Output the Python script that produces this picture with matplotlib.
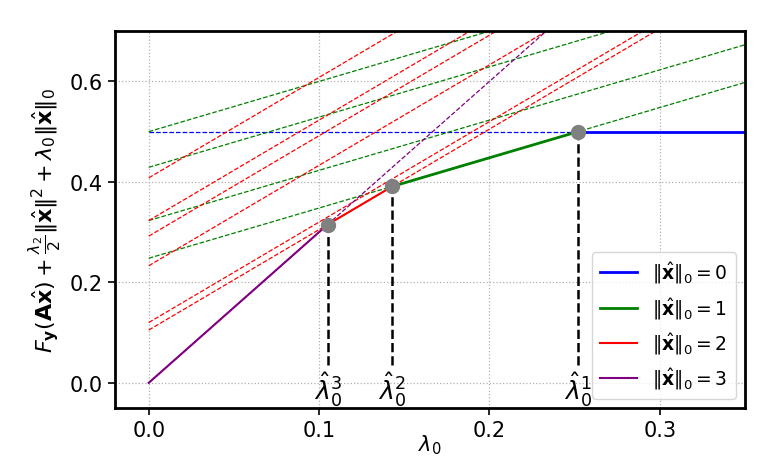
import numpy as np
import matplotlib
matplotlib.use('Agg')
import matplotlib.pyplot as plt

# intercepts of the cost lines c + k*lambda0, grouped by support size k
c0 = [0.5]
c1 = [0.5, 0.429, 0.323, 0.248]
c2 = [0.408, 0.323, 0.292, 0.233, 0.12, 0.105]
c3 = [0.0]
colors = ['blue', 'green', 'red', 'purple']
labels = [r'$\|\hat{\mathbf{x}}\|_0 = %d$' % k for k in range(4)]

intercepts = [c0, c1, c2, c3]
best = [min(c) for c in intercepts]
# breakpoints where the optimal support size changes
lam_bp = [best[k - 1] - best[k] for k in range(1, 4)]   # lambda^1, lambda^2, lambda^3

xmax = 0.36
fig, ax = plt.subplots(figsize=(7.8, 4.6), dpi=100)
fig.subplots_adjust(left=0.147, right=0.955, top=0.93, bottom=0.111)

lam = np.linspace(0, xmax, 200)
for k, cs in enumerate(intercepts):
    for c in cs:
        ax.plot(lam, c + k * lam, '--', color=colors[k], lw=0.9)

# lower envelope, piece by piece
edges = [xmax] + lam_bp + [0.0]
for k in range(4):
    seg = np.linspace(edges[k + 1], edges[k], 50)
    ax.plot(seg, best[k] + k * seg, '-', color=colors[k],
            lw=2.0 if k < 2 else 1.5, label=labels[k])

for i, lb in enumerate(lam_bp):
    yb = best[i] + i * lb
    ax.plot([lb, lb], [0.035, yb], '--', color='black', lw=1.8, zorder=4)
    ax.plot(lb, yb, 'o', color='gray', ms=10, zorder=5)
    ax.text(lb, -0.05, r'$\hat{\lambda}_0^{%d}$' % (i + 1), ha='center',
            va='bottom', fontsize=18)

ax.set_xlim(-0.02, 0.35)
ax.set_ylim(-0.05, 0.7)
ax.set_xticks([0.0, 0.1, 0.2, 0.3])
ax.set_yticks([0.0, 0.2, 0.4, 0.6])
ax.tick_params(labelsize=15, width=1.2, length=5)
ax.grid(True, ls=':', color='#b0b0b0', lw=0.9)
for s in ax.spines.values():
    s.set_linewidth(2)

ax.set_xlabel(r'$\lambda_0$', fontsize=15)
ax.xaxis.set_label_coords(0.5, -0.066)
ax.set_ylabel(r'$F_{\mathbf{y}}(\mathbf{A}\hat{\mathbf{x}}) + \frac{\lambda_2}{2}\|\hat{\mathbf{x}}\|^2 + \lambda_0\|\hat{\mathbf{x}}\|_0$',
              fontsize=16)
ax.legend(loc='lower right', fontsize=13.5)

plt.savefig('out.png')
